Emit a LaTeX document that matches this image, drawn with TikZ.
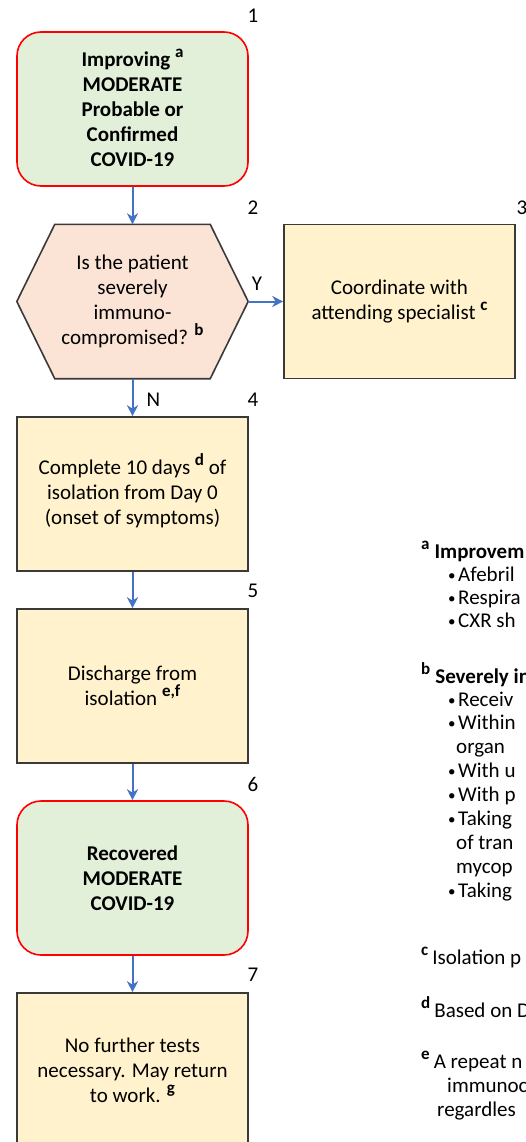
\documentclass[tikz,border=0pt]{standalone}
\usepackage{fontspec}
\setmainfont{Carlito}
\usetikzlibrary{arrows.meta,backgrounds}
\definecolor{boxgreen}{HTML}{E2EFD9}
\definecolor{boxred}{HTML}{FF0000}
\definecolor{boxpeach}{HTML}{FBE4D5}
\definecolor{boxyellow}{HTML}{FFF2CC}
\definecolor{edgegray}{HTML}{3A3A3A}
\definecolor{arrowblue}{HTML}{4472C4}
\newcommand\fnmark[1]{\smash{\raisebox{9pt}{\fontsize{17}{17}\selectfont\bfseries #1}}}
\tikzset{
  base/.style={minimum width=231pt, minimum height=154pt, inner sep=0pt, align=center,
    font=\fontsize{21}{25}\selectfont},
  startbox/.style={base, draw=boxred, fill=boxgreen, line width=1.6pt, rounded corners=24pt},
  procbox/.style={base, draw=edgegray, fill=boxyellow, line width=1.6pt},
  hexbox/.style={base},
  hexshape/.style={draw=edgegray, fill=boxpeach, line width=1.6pt, line join=miter},
  flow/.style={draw=arrowblue, line width=2pt, -{Stealth[length=11pt,width=11pt,inset=3.5pt]}},
  numlabel/.style={font=\fontsize{21}{25}\selectfont, inner sep=0pt},
  note/.style={anchor=base west, inner sep=0pt, font=\fontsize{21}{25}\selectfont},
}
\newcommand\bul{\makebox[10pt][l]{\fontsize{15}{15}\selectfont\raisebox{1pt}{•}}}
\begin{document}
\begin{tikzpicture}[x=1pt,y=-1pt]
\useasboundingbox (0,0) rectangle (525,1142);
\clip (0,0) rectangle (525,1142);

% nodes
\node[startbox] (n1) at (132.5,109) {\bfseries Improving \fnmark{a}\\\bfseries MODERATE\\\bfseries Probable or\\\bfseries Confirmed\\\bfseries COVID-19};
\node[hexbox] (n2) at (132.5,301.5) {Is the patient\\severely\\immuno-\\compromised? \fnmark{b}};
\begin{scope}[on background layer]
\fill[white] (0,0) rectangle (525,1142);
\draw[hexshape] (n2.west) -- ([xshift=38pt]n2.north west) -- ([xshift=-38pt]n2.north east) -- (n2.east) -- ([xshift=-38pt]n2.south east) -- ([xshift=38pt]n2.south west) -- cycle;
\end{scope}
\node[procbox] (n3) at (399.5,301.5) {Coordinate with\\attending specialist \fnmark{c}};
\node[procbox] (n4) at (132.5,494) {Complete 10 days \fnmark{d} of\\isolation from Day 0\\(onset of symptoms)};
\node[procbox] (n5) at (132.5,686) {Discharge from\\isolation \fnmark{e,f}};
\node[startbox] (n6) at (132.5,878) {\bfseries Recovered\\\bfseries MODERATE\\\bfseries COVID-19};
\node[procbox] (n7) at (132.5,1070) {No further tests\\necessary. May return\\to work. \fnmark{g}};

% step numbers
\node[numlabel] (l1) at (253,16) {1};
\node[numlabel] (l2) at (253,208) {2};
\node[numlabel] (l3) at (522,208) {3};
\node[numlabel] (l4) at (253,400) {4};
\node[numlabel] (l5) at (253,591) {5};
\node[numlabel] (l6) at (253,784) {6};
\node[numlabel] (l7) at (253,975) {7};

% connectors
\draw[flow] (n1) -- (n2);
\draw[flow] (n2.east) -- node[numlabel, pos=0.25, above=10pt] (ylab) {Y} (n3.west);
\draw[flow] (n2) -- node[numlabel, pos=0.55, right=13pt] (nlab) {N} (n4);
\draw[flow] (n4) -- (n5);
\draw[flow] (n5) -- (n6);
\draw[flow] (n6) -- (n7);

% footnotes
\node[note] (fa) at (421,558) {\fnmark{a}\hspace{5pt}\bfseries Improvem};
\node[note] (fa1) at (448,581) {\bul Afebril};
\node[note] (fa2) at (448,604) {\bul Respira};
\node[note] (fa3) at (448,627) {\bul CXR sh};
\node[note] (fb) at (421,683) {\fnmark{b}\hspace{5pt}\bfseries Severely in};
\node[note] (fb1) at (448,706) {\bul Receiv};
\node[note] (fb2) at (448,729) {\bul Within};
\node[note] (fb2b) at (456,753) {organ};
\node[note] (fb3) at (448,777) {\bul With u};
\node[note] (fb4) at (448,801) {\bul With p};
\node[note] (fb5) at (448,825) {\bul Taking};
\node[note] (fb5b) at (456,849) {of tran};
\node[note] (fb5c) at (456,873) {mycop};
\node[note] (fb6) at (448,897) {\bul Taking};
\node[note] (fc) at (421,964) {\fnmark{c}\hspace{4pt}Isolation p};
\node[note] (fd) at (421,1017) {\fnmark{d}\hspace{4pt}Based on D};
\node[note] (fe) at (421,1068) {\fnmark{e}\hspace{4pt}A repeat n};
\node[note] (fe1) at (447,1092) {immunoc};
\node[note] (fe2) at (437,1116) {regardles};
\end{tikzpicture}
\end{document}
